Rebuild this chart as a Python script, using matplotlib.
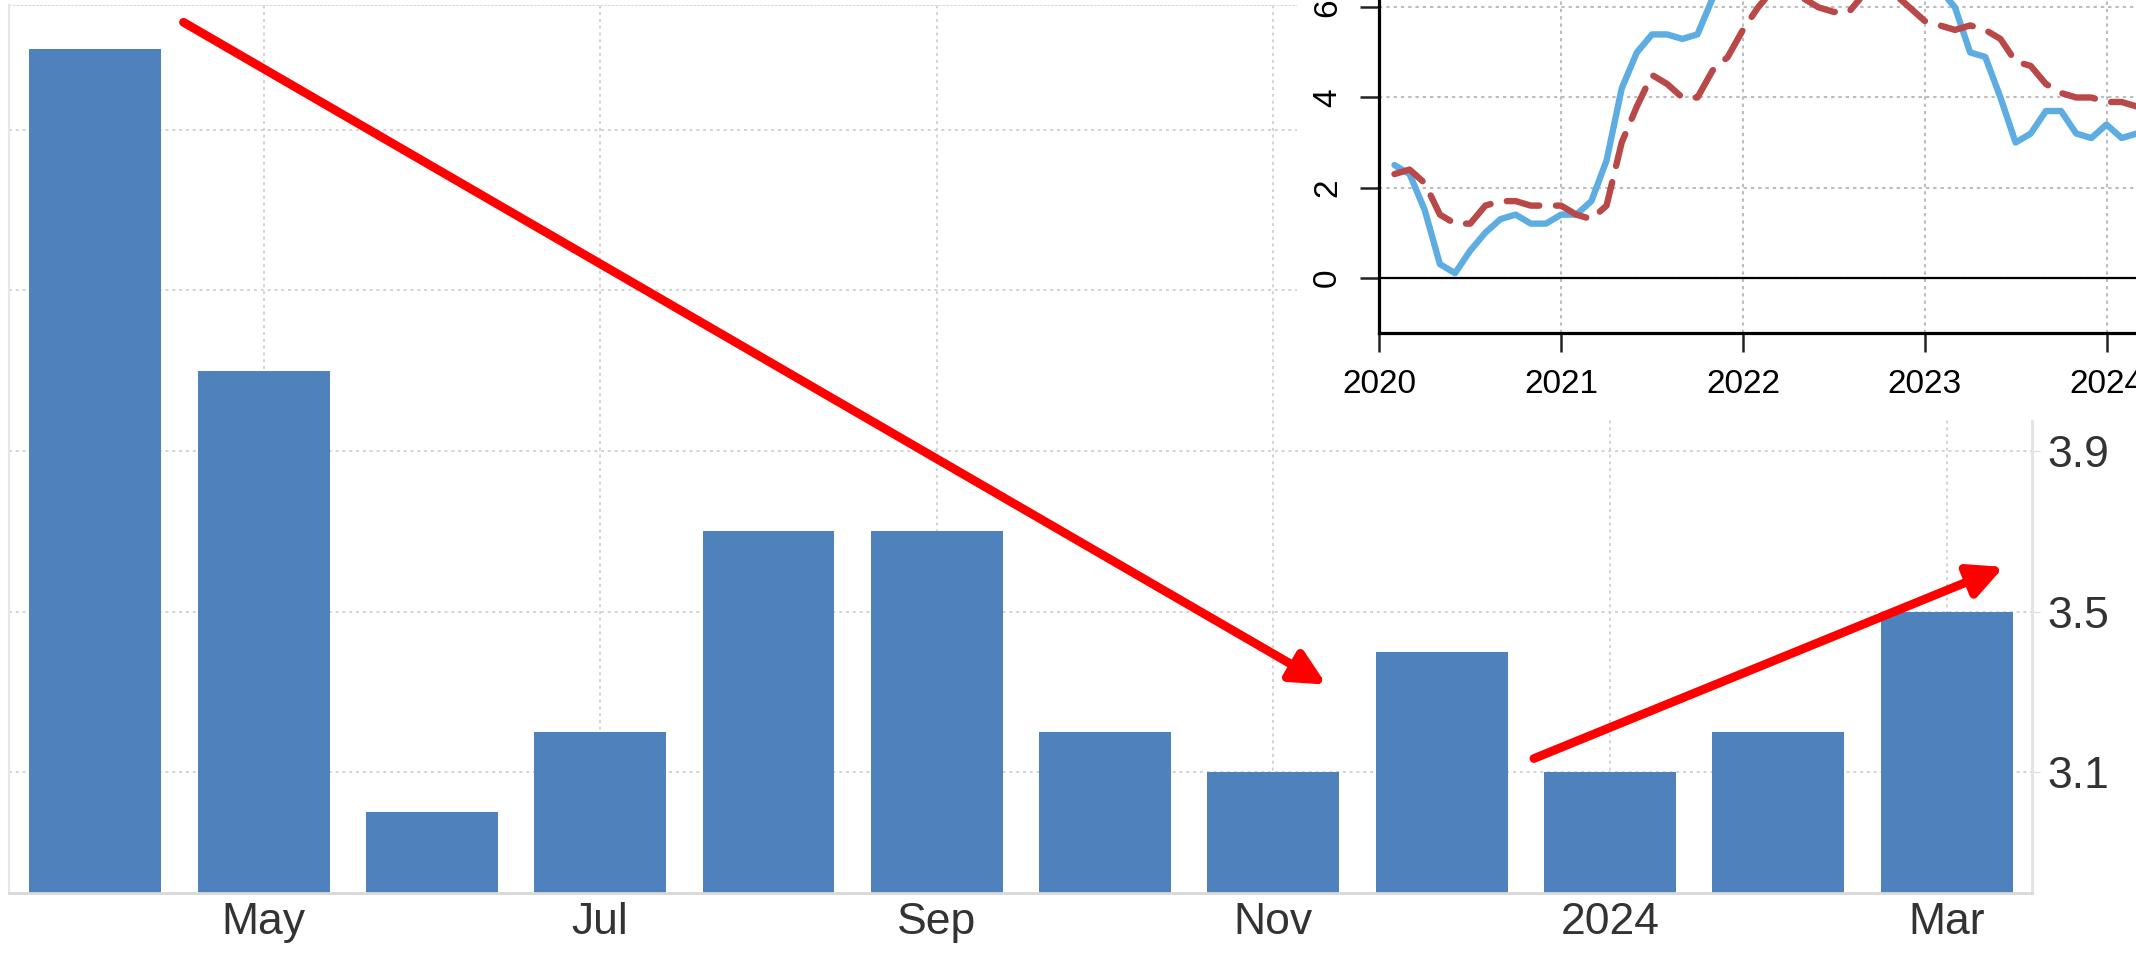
import matplotlib
matplotlib.use('Agg')
import matplotlib.pyplot as plt
from matplotlib.patches import Rectangle

plt.rcParams['font.family'] = ['Liberation Sans', 'DejaVu Sans']

# bar chart: yearly inflation, Apr 2023 - Mar 2024
months = ['Apr', 'May', 'Jun', 'Jul', 'Aug', 'Sep', 'Oct', 'Nov', 'Dec', '2024', 'Feb', 'Mar']
cpi_yoy = [4.9, 4.1, 3.0, 3.2, 3.7, 3.7, 3.2, 3.1, 3.4, 3.1, 3.2, 3.5]
shown_labels = ['May', 'Jul', 'Sep', 'Nov', '2024', 'Mar']
bar_yticks = [3.1, 3.5, 3.9, 4.3, 4.7]

# inset: monthly series Jan 2020 - Mar 2024
headline = [2.5, 2.3, 1.5, 0.3, 0.1, 0.6, 1.0, 1.3, 1.4, 1.2, 1.2, 1.4,
            1.4, 1.7, 2.6, 4.2, 5.0, 5.4, 5.4, 5.3, 5.4, 6.2, 6.8, 7.0,
            7.5, 7.9, 8.5, 8.3, 8.6, 9.1, 8.5, 8.3, 8.2, 7.7, 7.1, 6.5,
            6.4, 6.0, 5.0, 4.9, 4.0, 3.0, 3.2, 3.7, 3.7, 3.2, 3.1, 3.4,
            3.1, 3.2, 3.5]
core = [2.3, 2.4, 2.1, 1.4, 1.2, 1.2, 1.6, 1.7, 1.7, 1.6, 1.6, 1.6,
        1.4, 1.3, 1.6, 3.0, 3.8, 4.5, 4.3, 4.0, 4.0, 4.6, 4.9, 5.5,
        6.0, 6.4, 6.5, 6.2, 6.0, 5.9, 5.9, 6.3, 6.6, 6.3, 6.0, 5.7,
        5.6, 5.5, 5.6, 5.5, 5.3, 4.8, 4.7, 4.3, 4.1, 4.0, 4.0, 3.9,
        3.9, 3.8, 3.8]
inset_years = [2020, 2021, 2022, 2023, 2024]
inset_yticks = [0, 2, 4, 6]

W, H = 2136, 958


def frac(x0, y0, x1, y1):
    # pixel box (y measured from top) -> figure fraction rect
    return [x0 / W, 1 - y1 / H, (x1 - x0) / W, (y1 - y0) / H]


fig = plt.figure(figsize=(W / 100, H / 100), dpi=100)

# main bar chart
ax = fig.add_axes(frac(9.3, 5, 2031.7, 892.7))
x = list(range(len(months)))
ax.bar(x, cpi_yoy, width=0.784, color='#4F81BD', zorder=2)
ax.set_xlim(-0.511, 11.506)
ax.set_ylim(2.8, 5.01)

ax.set_xticks([months.index(m) for m in shown_labels])
ax.set_xticklabels(shown_labels)
ax.yaxis.tick_right()
ax.set_yticks(bar_yticks)
ax.set_yticklabels(['%.1f' % v for v in bar_yticks])
ax.tick_params(axis='x', length=0, pad=7, labelsize=32, labelcolor='#333333')
ax.tick_params(axis='y', length=6, width=1, color='#dddddd', pad=5,
               labelsize=32, labelcolor='#333333')

ax.grid(True, color='#d3d3d3', linestyle=(0, (1.5, 2)), lw=1.4)
ax.set_axisbelow(True)
ax.spines['top'].set_color('#dddddd')
ax.spines['top'].set_linestyle((0, (1.5, 2)))
ax.spines['left'].set_color('#e6e6e6')
ax.spines['left'].set_linewidth(1.5)
ax.spines['bottom'].set_color('#d8d8d8')
ax.spines['bottom'].set_linewidth(2)
ax.spines['right'].set_color('#e2e2e2')
ax.spines['right'].set_linewidth(2)

# red trend arrows
arrow_style = '-|>,head_length=0.85,head_width=0.42'
ax.annotate('', xy=(7.315, 3.318), xytext=(0.524, 4.967),
            arrowprops=dict(arrowstyle=arrow_style, mutation_scale=24,
                            color='#ff0000', lw=6.3, shrinkA=0, shrinkB=0),
            zorder=5)
ax.annotate('', xy=(11.34, 3.611), xytext=(8.548, 3.134),
            arrowprops=dict(arrowstyle=arrow_style, mutation_scale=24,
                            color='#ff0000', lw=6.3, shrinkA=0, shrinkB=0),
            zorder=5)

# white block behind the inset
fig.add_artist(Rectangle((1297 / W, 1 - 420 / H), 1, 1, transform=fig.transFigure,
                         facecolor='white', edgecolor='none', zorder=3))

# inset line chart (cut by the figure edges)
ins = fig.add_axes(frac(1379.3, 277.7 - 9.5 * 45.05, 1379.3 + 4.6 * 181.8, 333.1))
ins.set_zorder(4)
ins.patch.set_alpha(0)
t = [2020 + (i + 1) / 12 for i in range(len(headline))]
ins.plot(t, headline, color='#5DADE2', lw=4.6, solid_joinstyle='round',
         solid_capstyle='round', zorder=3)
ins.plot(t, core, color='#B94848', lw=4.6, linestyle=(0, (5.2, 2.6)),
         dash_capstyle='round', dash_joinstyle='round', zorder=4)
ins.axhline(0, color='black', lw=1.6, zorder=2)
ins.set_xlim(2020, 2024.6)
ins.set_ylim(-1.23, 9.5)
ins.set_xticks(inset_years)
ins.set_yticks(inset_yticks)
ins.grid(True, color='#bdbdbd', linestyle=(0, (1.6, 1.9)), lw=1.5)
ins.set_axisbelow(True)
for side in ['top', 'right']:
    ins.spines[side].set_visible(False)
for side in ['left', 'bottom']:
    ins.spines[side].set_color('black')
    ins.spines[side].set_linewidth(2.3)
ins.tick_params(length=14, width=1.8, color='#222222', pad=12,
                labelsize=24, labelcolor='black')
ins.tick_params(axis='y', labelrotation=90)
for lbl in ins.get_yticklabels():
    lbl.set_va('center')

fig.savefig('out.png', dpi=100)
